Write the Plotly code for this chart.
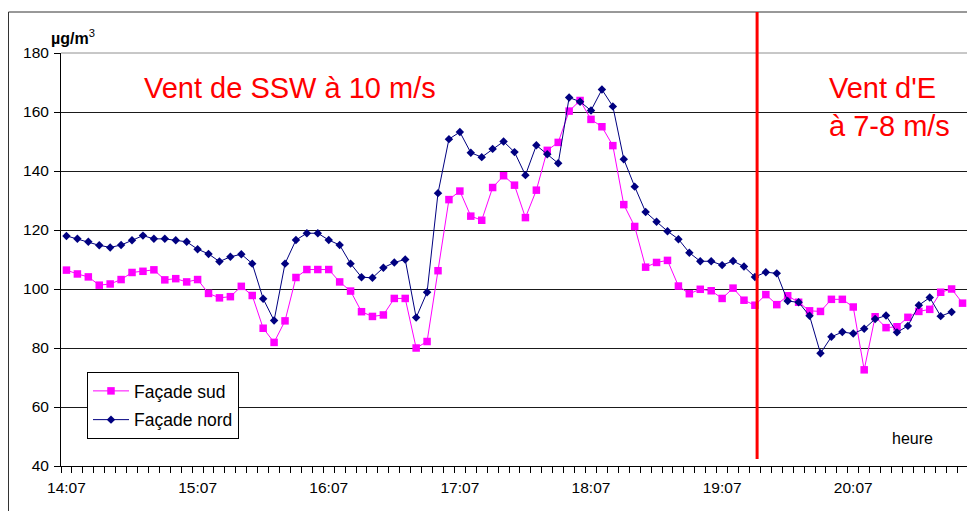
import plotly.graph_objects as go

# Categories: 5-minute steps from 14:07 to 20:57
times = [f"{(14*60+7+5*i)//60}:{(14*60+7+5*i)%60:02d}" for i in range(83)]
hour_labels = ["14:07", "15:07", "16:07", "17:07", "18:07", "19:07", "20:07"]

facade_sud = [106.4, 105.1, 104.1, 101.3, 101.7, 103.2, 105.6, 106.0, 106.5, 103.1,
              103.5, 102.4, 103.2, 98.5, 97.0, 97.4, 100.9, 97.8, 86.7, 81.9,
              89.2, 103.9, 106.6, 106.6, 106.6, 102.4, 99.3, 92.3, 90.7, 91.2,
              96.8, 96.8, 80.0, 82.2, 106.2, 130.3, 133.2, 124.7, 123.3, 134.4,
              138.4, 135.2, 124.2, 133.5, 147.0, 149.7, 160.3, 163.9, 157.5, 155.0,
              148.6, 128.6, 121.2, 107.4, 109.0, 109.7, 101.0, 98.4, 99.9, 99.4,
              96.8, 100.3, 96.2, 94.5, 98.1, 94.7, 97.7, 95.5, 92.6, 92.4,
              96.5, 96.5, 93.9, 72.6, 90.6, 86.9, 87.2, 90.4, 92.4, 93.1,
              98.9, 100.0, 95.2]

facade_nord = [118.0, 117.0, 116.0, 114.8, 114.1, 114.9, 116.5, 118.1, 117.0, 117.0,
               116.5, 116.0, 113.5, 111.9, 109.3, 110.9, 111.8, 108.6, 96.7, 89.3,
               108.6, 116.6, 118.9, 118.9, 116.6, 114.9, 108.6, 104.0, 103.8, 107.2,
               109.0, 110.0, 90.3, 98.9, 132.5, 150.8, 153.2, 146.2, 144.7, 147.5,
               150.0, 146.4, 138.6, 148.7, 145.7, 142.6, 164.9, 163.5, 160.5, 167.6,
               161.9, 144.0, 134.7, 126.1, 122.8, 119.6, 116.9, 112.3, 109.4, 109.4,
               108.1, 109.5, 107.6, 104.1, 105.7, 105.3, 95.9, 95.5, 90.9, 78.2,
               83.8, 85.4, 84.9, 86.5, 89.8, 91.0, 85.3, 87.5, 94.5, 97.1,
               90.8, 92.2, None]

y_ticks = [40, 60, 80, 100, 120, 140, 160, 180]
wind_change_index = 63.2

FONT = "Arial, Liberation Sans, sans-serif"

# The page body has an 8px default margin: the figure is drawn at (8, 8).
OFF = 8
PL, PT, PW, PH = 61 - OFF, 53 - OFF, 907, 413   # plot area in figure px
FIG_W, FIG_H = 975 - OFF, 511 - OFF


def px(xp):
    """page x pixel -> paper x"""
    return (xp - OFF - PL) / PW


def py(yp):
    """page y pixel -> paper y"""
    return (PT + PH - (yp - OFF)) / PH


fig = go.Figure()
fig.add_trace(go.Scatter(
    x=times, y=facade_sud, name="Façade sud", mode="lines+markers",
    legendgroup="sud",
    line=dict(color="#FF00FF", width=1),
    marker=dict(symbol="square", size=7.5, color="#FF00FF"),
))
fig.add_trace(go.Scatter(
    x=times, y=facade_nord, name="Façade nord", mode="lines+markers",
    legendgroup="nord",
    line=dict(color="#000080", width=1),
    marker=dict(symbol="diamond", size=6.5, color="#000080"),
    connectgaps=False,
))

fig.update_layout(
    width=FIG_W, height=FIG_H,
    margin=dict(l=PL, r=FIG_W - PL - PW, t=PT, b=FIG_H - PT - PH, autoexpand=False),
    plot_bgcolor="white", paper_bgcolor="white",
    font=dict(family=FONT, color="black"),
    showlegend=True,
    legend=dict(
        x=px(87), y=py(372), xanchor="left", yanchor="top",
        bgcolor="white", bordercolor="black", borderwidth=1,
        font=dict(size=17.5, family=FONT, color="black"),
        tracegroupgap=3, itemwidth=36,
    ),
    xaxis=dict(
        type="category", categoryorder="array", categoryarray=times,
        range=[-0.5, len(times) - 0.5],
        tickvals=times,
        ticktext=[t if t in hour_labels else "" for t in times],
        tickangle=0, automargin=False,
        tickson="boundaries", ticks="outside", ticklen=6, tickcolor="black",
        ticklabelstandoff=7,
        showline=True, linecolor="black", linewidth=1,
        showgrid=False, zeroline=False,
        tickfont=dict(size=15.5, family=FONT, color="black"),
    ),
    yaxis=dict(
        range=[40, 180], tickvals=y_ticks, automargin=False,
        ticks="outside", ticklen=6, tickcolor="black",
        ticklabelstandoff=2,
        showline=True, linecolor="black", linewidth=1,
        showgrid=True, gridcolor="#1a1a1a", gridwidth=1,
        zeroline=False,
        tickfont=dict(size=15.5, family=FONT, color="black"),
    ),
)

# plot area border (top & right, gray)
fig.add_shape(type="line", xref="paper", yref="paper", x0=0, x1=1, y0=1, y1=1,
              line=dict(color="#909090", width=1), layer="above")
fig.add_shape(type="line", xref="paper", yref="paper", x0=1, x1=1, y0=0, y1=1,
              line=dict(color="#909090", width=1), layer="above")
# outer chart frame (top & left)
fig.add_shape(type="line", xref="paper", yref="paper", x0=px(8.5), x1=px(990), y0=py(12), y1=py(12),
              line=dict(color="#333333", width=1), layer="above")
fig.add_shape(type="line", xref="paper", yref="paper", x0=px(8.5), x1=px(8.5), y0=py(530), y1=py(12),
              line=dict(color="#333333", width=1), layer="above")
# red vertical line (wind change)
fig.add_shape(type="line", xref="x", yref="paper", x0=wind_change_index, x1=wind_change_index,
              y0=py(459), y1=py(12), line=dict(color="#FF0000", width=3), layer="above")

ann = dict(showarrow=False, xref="paper", yref="paper")
fig.add_annotation(text="Vent de SSW à 10 m/s", x=px(142), y=py(87.5), xanchor="left", yanchor="middle",
                   font=dict(size=29, color="#FF0000", family=FONT), **ann)
fig.add_annotation(text="Vent d'E", x=px(827), y=py(87.5), xanchor="left", yanchor="middle",
                   font=dict(size=29, color="#FF0000", family=FONT), **ann)
fig.add_annotation(text="à 7-8 m/s", x=px(827), y=py(126), xanchor="left", yanchor="middle",
                   font=dict(size=29, color="#FF0000", family=FONT), **ann)
fig.add_annotation(text="heure", x=px(890), y=py(438), xanchor="left", yanchor="middle",
                   font=dict(size=16, color="black", family=FONT), **ann)
fig.add_annotation(text="<b>µg/m</b><sup>3</sup>", x=px(49), y=py(37), xanchor="left", yanchor="middle",
                   font=dict(size=16, color="black", family=FONT), **ann)

fig.write_html("out.html")
